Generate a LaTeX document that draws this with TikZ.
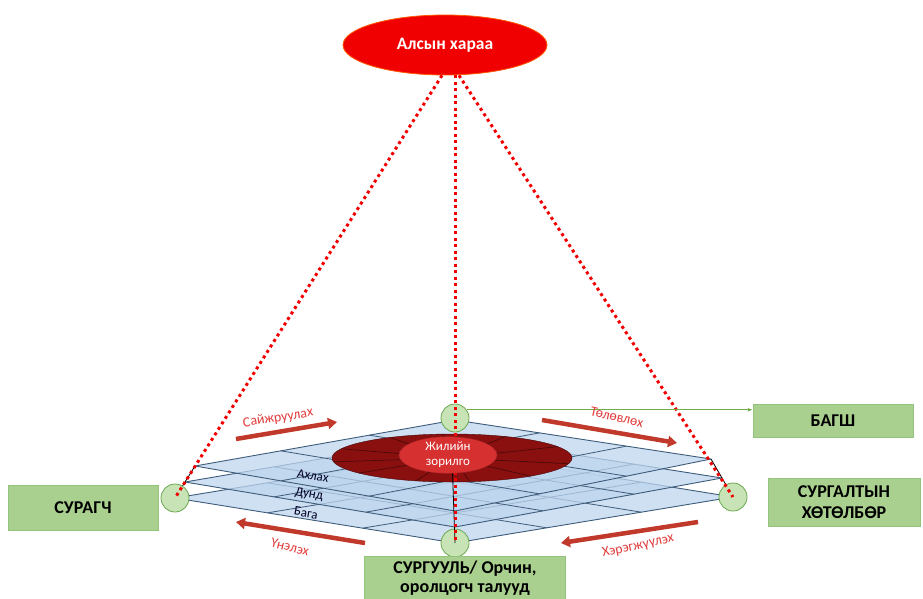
\documentclass[tikz,border=0pt]{standalone}
\usepackage{fontspec}
\setmainfont{Carlito}
\usetikzlibrary{shapes.geometric,arrows.meta,calc}
\definecolor{boxgreen}{HTML}{A9D08E}
\definecolor{boxedge}{HTML}{93C47D}
\definecolor{ballgreen}{HTML}{C8E3B6}
\definecolor{balledge}{HTML}{6AA84F}
\definecolor{layerblue}{HTML}{BDD5EE}
\definecolor{gridblue}{HTML}{3F5C7A}
\definecolor{visionred}{HTML}{F00000}
\definecolor{goaldark}{HTML}{8A1010}
\definecolor{goalred}{HTML}{D63030}
\definecolor{arrowred}{HTML}{C0392B}
\definecolor{labelred}{HTML}{E03C3C}
\definecolor{linkgreen}{HTML}{70AD47}
\begin{document}
\begin{tikzpicture}[x=1pt,y=-1pt,
  stage/.style={draw=boxedge,fill=boxgreen,font=\fontsize{18}{21}\selectfont\bfseries,align=center,inner sep=0pt},
  ball/.style={circle,draw=balledge,fill=ballgreen,line width=0.8pt,minimum size=28pt,inner sep=0pt},
  layer/.style={draw=gridblue,fill=layerblue,fill opacity=0.75,line width=0.9pt,line join=round},
  stripe/.style={draw=gridblue,line width=0.8pt},
  dots/.style={visionred,line width=3pt,dash pattern=on 3pt off 3.5pt},
  move/.style={arrowred,line width=4.5pt,-{Triangle[length=9pt,width=11pt]}},
  move label/.style={labelred,font=\fontsize{14}{16}\selectfont},
  tier/.style={text=black!85!blue,font=\fontsize{13}{14}\selectfont,inner sep=0pt,rotate=-10}]
  \useasboundingbox (0,0) rectangle (923,599);
  \def \Layers{
    0/175/498/455/452/733/497/455/543,
    1/185/482/455/436/722/478/455/527,
    2/195/466/455/420/711/459/455/511}
  \def \Balls{
    left/175/498,
    top/455/418,
    right/733/497,
    bottom/455/543}
  % stacked levels
  \foreach \k / \lx / \ly / \tx / \ty / \rx / \ry / \bx / \by in \Layers{
    \coordinate (L\k) at (\lx, \ly);
    \coordinate (T\k) at (\tx, \ty);
    \coordinate (R\k) at (\rx, \ry);
    \coordinate (B\k) at (\bx, \by);
    \path[layer] (L\k) -- (T\k) -- (R\k) -- (B\k) -- cycle;
    \foreach \t in {0.33,0.67}{
      \path[stripe] ($(L\k)!\t!(B\k)$) -- ($(T\k)!\t!(R\k)$);
      \path[stripe] ($(L\k)!\t!(T\k)$) -- ($(B\k)!\t!(R\k)$);
    }
  }
  \draw[black,line width=0.8pt] (L0) -- (L2) (R0) -- (R2);
  % goal ring
  \node[ellipse,draw=black!50!goaldark,fill=goaldark,minimum width=240pt,minimum height=48pt] (goalring) at (452,458) {};
  \begin{scope}
    \clip (452,458) ellipse [x radius=120, y radius=24];
    \foreach \a in {12,45,80,110,145,172,200,235,265,300,335}{
      \draw[black!45!goaldark,line width=0.7pt] (goalring.center) -- ++(\a:130 and 30);
    }
  \end{scope}
  % corners
  \foreach \id / \x / \y in \Balls{
    \node[ball] (ball\id) at (\x, \y) {};
  }
  \node[ellipse,draw=orange!70!red,fill=visionred,line width=0.8pt,minimum width=204pt,minimum height=60pt,text=white,font=\fontsize{17.5}{20}\selectfont\bfseries] (vision) at (445,45) {Алсын хараа};
  \draw[black,line width=0.8pt] (goalring.center) -- (ballbottom.center);
  \draw[dots] ([xshift=-3pt]vision.south) -- (ballleft.center);
  \draw[dots] ([xshift=10pt]vision.south) -- (ballbottom.center);
  \draw[dots] ([xshift=14pt]vision.south) -- (ballright.center);
  \node[ellipse,draw=goalred!80!black,fill=goalred,minimum width=98pt,minimum height=34pt,inner sep=0pt,text=white,align=center,font=\fontsize{13}{15}\selectfont] (goal) at (448,455) {Жилийн\\зорилго};
  % levels
  \node[tier] (senior) at (313,476) {Ахлах};
  \node[tier] (middle) at (309,494.5) {Дунд};
  \node[tier] (junior) at (306,513) {Бага};
  % partners
  \node[stage,minimum width=150pt,minimum height=45pt] (student) at (83,508) {СУРАГЧ};
  \node[stage,minimum width=160pt,minimum height=33pt] (teacher) at (833,421) {БАГШ};
  \node[stage,minimum width=152pt,minimum height=48pt] (program) at (844,502) {СУРГАЛТЫН\\ХӨТӨЛБӨР};
  \node[stage,minimum width=201pt,minimum height=43pt,anchor=north,font=\fontsize{18}{19}\selectfont\bfseries] (school) at (465,556) {СУРГУУЛЬ/ Орчин,\\оролцогч талууд};
  \draw[linkgreen,line width=1pt,-{Latex[length=5pt]}] (balltop.35) -- (balltop.35 -| teacher.west);
  % cycle
  \coordinate (improveA) at (236,439);
  \coordinate (improveB) at (337,422);
  \coordinate (planA) at (542,420);
  \coordinate (planB) at (677,443);
  \coordinate (doA) at (698,522);
  \coordinate (doB) at (561,543);
  \coordinate (checkA) at (365,543);
  \coordinate (checkB) at (236,522);
  \draw[move] (improveA) -- (improveB);
  \draw[move] (planA) -- (planB);
  \draw[move] (doA) -- (doB);
  \draw[move] (checkA) -- (checkB);
  \node[move label,rotate=9] (improve) at (278,418) {Сайжруулах};
  \node[move label,rotate=-13] (plan) at (617,417) {Төлөвлөх};
  \node[move label,rotate=12] (apply) at (638,546) {Хэрэгжүүлэх};
  \node[move label,rotate=-14] (assess) at (290,547) {Үнэлэх};
\end{tikzpicture}
\end{document}
